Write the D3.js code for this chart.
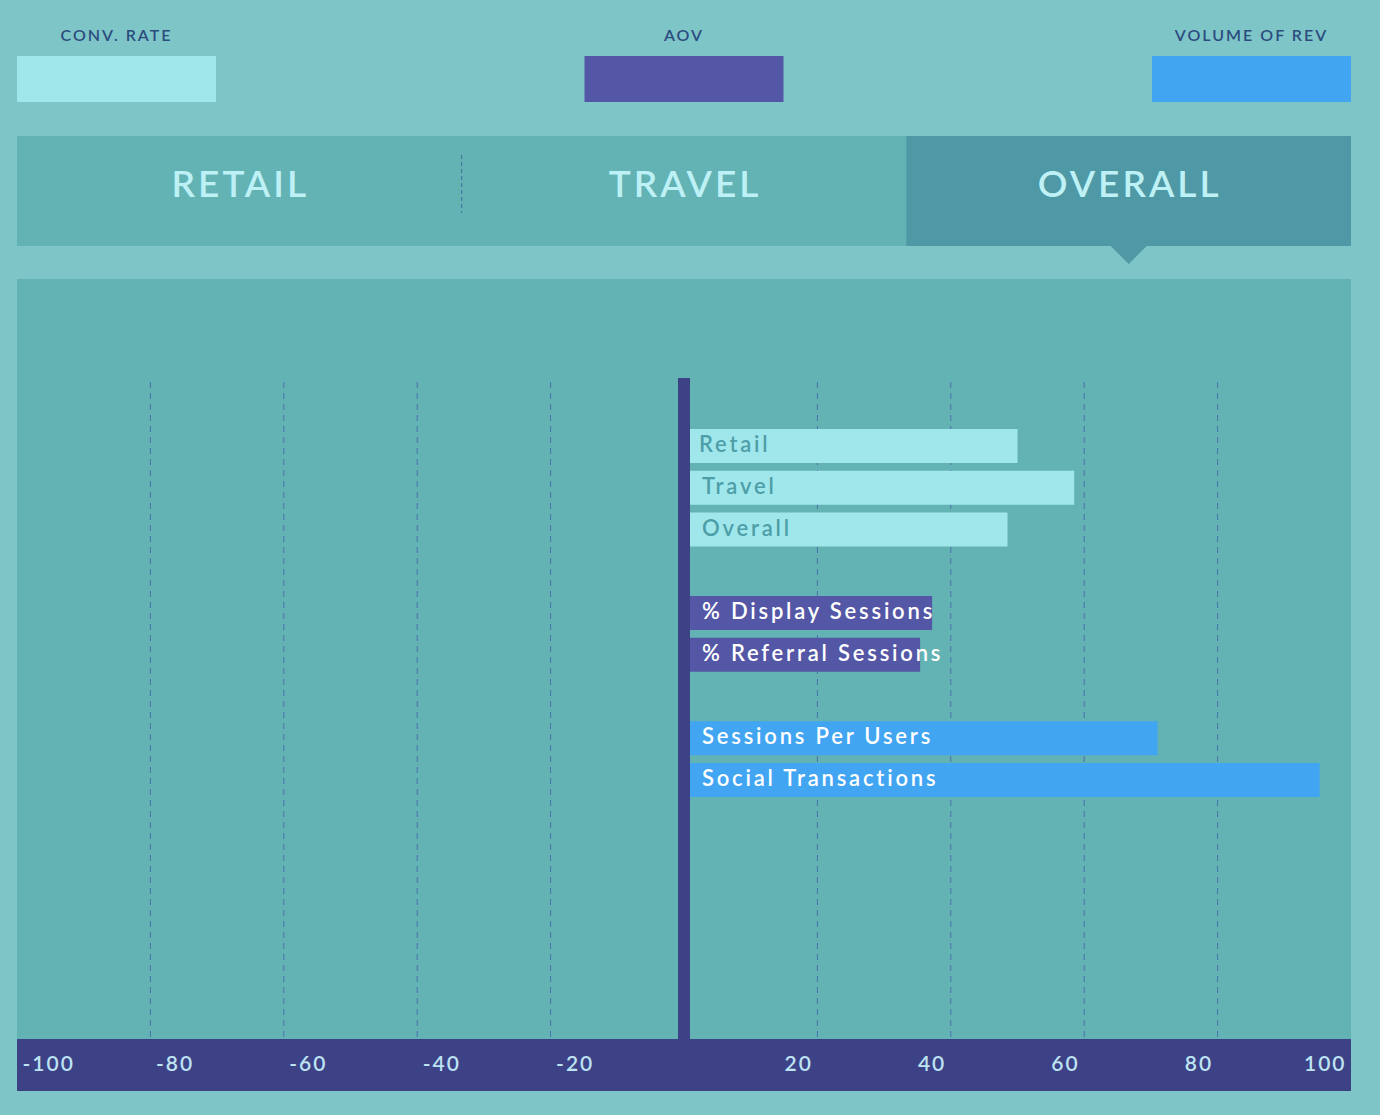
<!DOCTYPE html>
<html><head><meta charset="utf-8">
<script src="https://cdn.jsdelivr.net/npm/d3@7/dist/d3.min.js"></script>
<style>
html,body{margin:0;padding:0;background:#7EC5C8;}
svg{display:block;font-family:Lato,"Open Sans",sans-serif;}
</style></head><body>
<svg id="chart" width="1380" height="1115"></svg>
<script>
// ---- data ----
const legendLabels = ["CONV. RATE", "AOV", "VOLUME OF REV"];
const legendColors = ["#A0E7EC", "#5457A6", "#42A5F2"];
const tabs = ["RETAIL", "TRAVEL", "OVERALL"];
const activeTab = "OVERALL";
const categories = ["Retail", "Travel", "Overall", "", "% Display Sessions", "% Referral Sessions", " ", "Sessions Per Users", "Social Transactions"];
const values = [50, 58.5, 48.5, null, 37.2, 35.4, null, 71, 95.3];
const groups = ["CONV. RATE", "CONV. RATE", "CONV. RATE", null, "AOV", "AOV", null, "VOLUME OF REV", "VOLUME OF REV"];
const tickValues = [-100, -80, -60, -40, -20, 20, 40, 60, 80, 100];

const svg = d3.select("#chart");
const color = d3.scaleOrdinal().domain(legendLabels).range(legendColors);
const labelColor = d3.scaleOrdinal().domain(legendLabels).range(["#4E9EA8", "#FFFFFF", "#FFFFFF"]);

// background
svg.append("rect").attr("width", 1380).attr("height", 1115).attr("fill", "#7EC5C8");

// legend
const legX = d3.scalePoint().domain(legendLabels).range([116.5, 1251.5]);
const leg = svg.append("g").selectAll("g").data(legendLabels).join("g")
  .attr("transform", d => `translate(${legX(d)},0)`);
leg.append("text").text(d => d).attr("y", 41).attr("text-anchor", "middle")
  .attr("fill", "#2C4C7E").attr("font-size", 16).attr("font-weight", 600).attr("letter-spacing", 2);
leg.append("rect").attr("x", -99.5).attr("y", 56).attr("width", 199).attr("height", 46).attr("fill", d => color(d));

// tabs
const tabX = d3.scaleBand().domain(tabs).range([17, 1351]);
svg.append("rect").attr("x", 17).attr("y", 136).attr("width", 1334).attr("height", 110).attr("fill", "#63B3B5");
svg.append("rect").attr("x", tabX(activeTab)).attr("y", 136).attr("width", tabX.bandwidth()).attr("height", 110).attr("fill", "#4F98A5");
const ax = tabX(activeTab) + tabX.bandwidth() / 2;
svg.append("path").attr("d", `M${ax - 18},246 L${ax + 18},246 L${ax},264 Z`).attr("fill", "#4F98A5");
svg.append("line").attr("x1", tabX("TRAVEL")).attr("x2", tabX("TRAVEL")).attr("y1", 155).attr("y2", 213)
  .attr("stroke", "#3F6FA0").attr("stroke-width", 1).attr("stroke-dasharray", "4,3");
svg.append("g").selectAll("text").data(tabs).join("text")
  .attr("x", d => tabX(d) + tabX.bandwidth() / 2 + 1).attr("y", 197).attr("text-anchor", "middle")
  .attr("fill", "#BDF1F5").attr("font-size", 37).attr("font-weight", 600).attr("letter-spacing", 3)
  .text(d => d);

// panel
svg.append("rect").attr("x", 17).attr("y", 279).attr("width", 1334).attr("height", 760).attr("fill", "#63B3B5");

// scales
const x = d3.scaleLinear().domain([-100, 100]).range([17, 1351]);
const y = d3.scaleBand().domain(categories).range([429, 797]).paddingInner(0.1856).paddingOuter(0);

// gridlines
svg.append("g").selectAll("line").data(tickValues.filter(v => Math.abs(v) < 100)).join("line")
  .attr("x1", d => x(d)).attr("x2", d => x(d)).attr("y1", 382).attr("y2", 1039)
  .attr("stroke", "#4A72A8").attr("stroke-width", 1).attr("stroke-dasharray", "6,5");

// bars
const rows = categories.map((c, i) => ({ c, v: values[i], g: groups[i] })).filter(d => d.v !== null);
svg.append("g").selectAll("rect").data(rows).join("rect")
  .attr("x", x(0) + 6).attr("y", d => y(d.c)).attr("height", y.bandwidth())
  .attr("width", d => x(d.v) - x(0) - 6).attr("fill", d => color(d.g));
svg.append("g").selectAll("text").data(rows).join("text")
  .attr("x", d => d.c === "Retail" ? 699 : 702).attr("y", d => y(d.c) + y.bandwidth() / 2 + 6)
  .attr("fill", d => labelColor(d.g)).attr("font-size", 22).attr("font-weight", 600).attr("letter-spacing", 2.8)
  .text(d => d.c);

// zero line
svg.append("rect").attr("x", x(0) - 6).attr("y", 378).attr("width", 12).attr("height", 661).attr("fill", "#3D4286");

// axis band
svg.append("rect").attr("x", 17).attr("y", 1039).attr("width", 1334).attr("height", 52).attr("fill", "#3D4286");
const axis = d3.axisBottom(x).tickValues(tickValues).tickSize(0).tickFormat(d => String(d));
const axG = svg.append("g").attr("transform", "translate(0,1039)").call(axis);
axG.select(".domain").remove();
axG.selectAll("text")
  .attr("y", 32).attr("dy", 0)
  .attr("text-anchor", d => d < 0 ? "start" : "end")
  .attr("dx", d => d < 0 ? 5 : -5)
  .attr("fill", "#BEE3F3").attr("font-size", 21).attr("font-weight", 600).attr("letter-spacing", 2)
  .attr("font-family", "Lato, 'Open Sans', sans-serif");
</script>
</body></html>
